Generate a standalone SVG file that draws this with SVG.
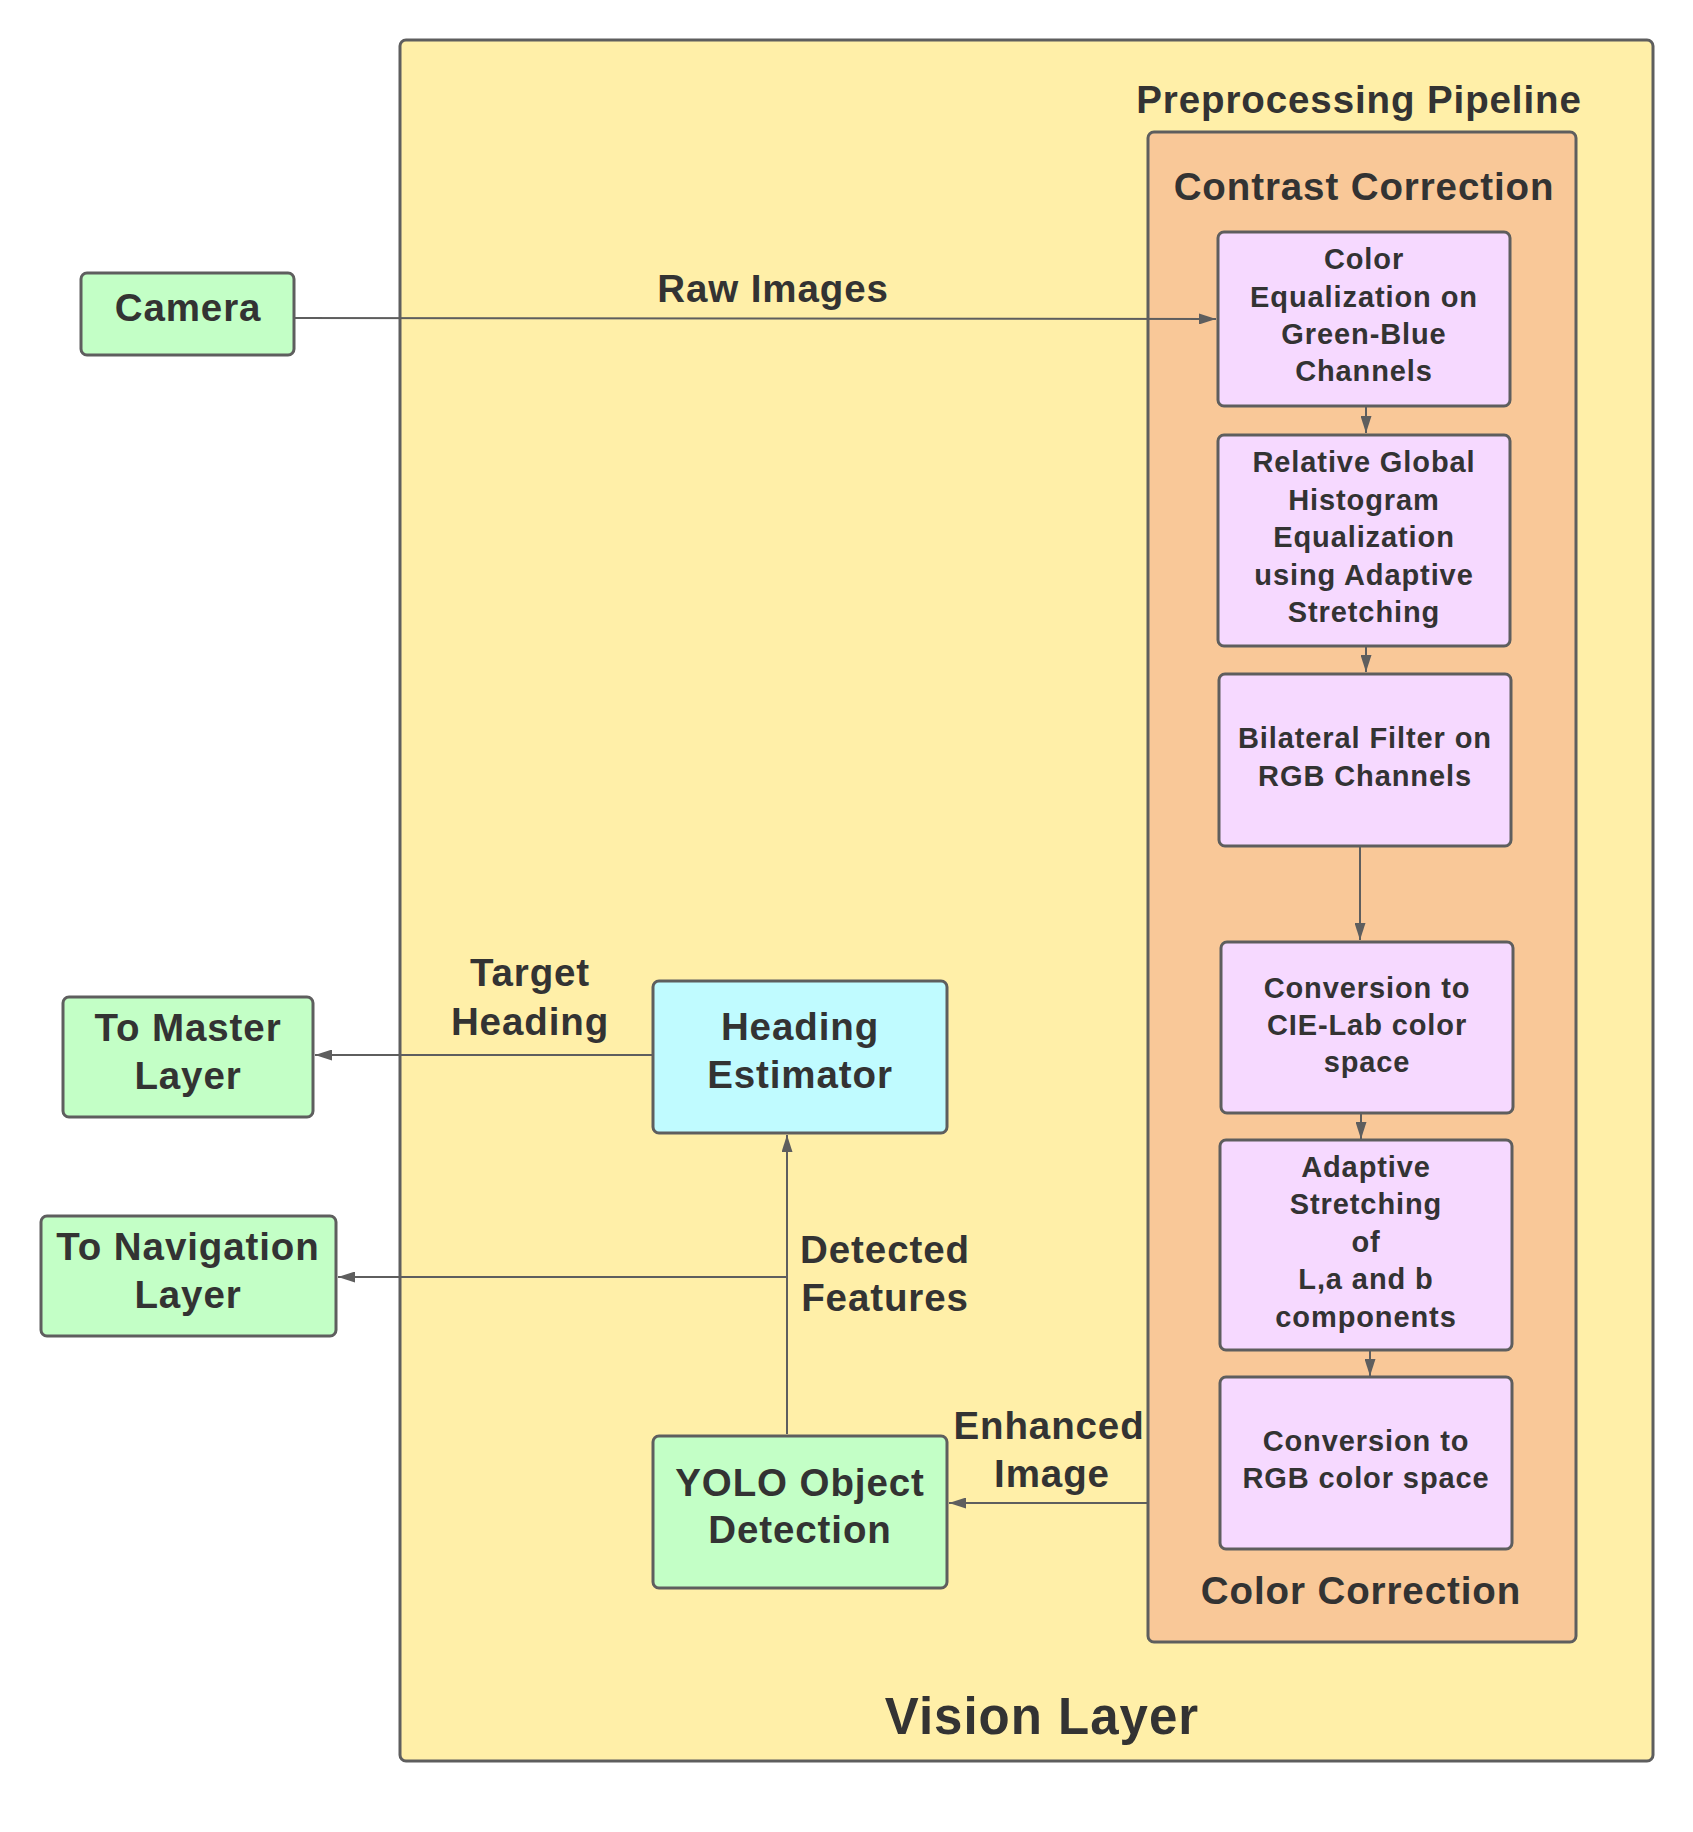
<svg xmlns="http://www.w3.org/2000/svg" width="1693" height="1832" viewBox="0 0 1693 1832">
<style>
text{font-family:"Liberation Sans",Arial,sans-serif;font-weight:bold;fill:#333333;text-anchor:middle}
.big{font-size:38.5px;letter-spacing:0.9px}
.small{font-size:29px;letter-spacing:0.9px}
.title{font-size:51px;letter-spacing:1px}
.box{stroke:#5e5e5e;stroke-width:3}
.proc{fill:#f6d9ff}
.green{fill:#c3ffc6}
.cyan{fill:#c0fbff}
.conn path{fill:none;stroke:#5e5e5e;stroke-width:2}
</style>
<defs>
<marker id="ah" markerUnits="userSpaceOnUse" markerWidth="17" markerHeight="11" refX="17" refY="5.5" orient="auto">
<path d="M0,0 L17,5.5 L0,11 z" fill="#5e5e5e"/>
</marker>
</defs>
<rect width="1693" height="1832" fill="#ffffff"/>
<g id="vision-layer">
<rect class="box" x="400" y="40" width="1253" height="1721" rx="6" fill="#ffefa8"/>
<text class="title" x="1042" y="1734">Vision Layer</text>
</g>
<g id="preprocessing-pipeline">
<text class="big" x="1359" y="113">Preprocessing Pipeline</text>
<rect class="box" x="1148" y="132" width="428" height="1510" rx="6" fill="#f9c898"/>
<text class="big" x="1364" y="200">Contrast Correction</text>
<text class="big" x="1361" y="1604">Color Correction</text>
</g>
<g id="camera">
<rect class="box green" x="81" y="273" width="213" height="82" rx="6"/>
<text class="big" x="188" y="321">Camera</text>
</g>
<g id="color-equalization">
<rect class="box proc" x="1218" y="232" width="292" height="174" rx="6"/>
<text class="small"><tspan x="1364" y="269">Color</tspan><tspan x="1364" y="307">Equalization on</tspan><tspan x="1364" y="344">Green-Blue</tspan><tspan x="1364" y="381">Channels</tspan></text>
</g>
<g id="histogram-equalization">
<rect class="box proc" x="1218" y="435" width="292" height="211" rx="6"/>
<text class="small"><tspan x="1364" y="472">Relative Global</tspan><tspan x="1364" y="510">Histogram</tspan><tspan x="1364" y="547">Equalization</tspan><tspan x="1364" y="585">using Adaptive</tspan><tspan x="1364" y="622">Stretching</tspan></text>
</g>
<g id="bilateral-filter">
<rect class="box proc" x="1219" y="674" width="292" height="172" rx="6"/>
<text class="small"><tspan x="1365" y="748">Bilateral Filter on</tspan><tspan x="1365" y="786">RGB Channels</tspan></text>
</g>
<g id="cielab-conversion">
<rect class="box proc" x="1221" y="942" width="292" height="171" rx="6"/>
<text class="small"><tspan x="1367" y="998">Conversion to</tspan><tspan x="1367" y="1035">CIE-Lab color</tspan><tspan x="1367" y="1072">space</tspan></text>
</g>
<g id="adaptive-stretching">
<rect class="box proc" x="1220" y="1140" width="292" height="210" rx="6"/>
<text class="small"><tspan x="1366" y="1177">Adaptive</tspan><tspan x="1366" y="1214">Stretching</tspan><tspan x="1366" y="1252">of</tspan><tspan x="1366" y="1289">L,a and b</tspan><tspan x="1366" y="1327">components</tspan></text>
</g>
<g id="rgb-conversion">
<rect class="box proc" x="1220" y="1377" width="292" height="172" rx="6"/>
<text class="small"><tspan x="1366" y="1451">Conversion to</tspan><tspan x="1366" y="1488">RGB color space</tspan></text>
</g>
<g id="heading-estimator">
<rect class="box cyan" x="653" y="981" width="294" height="152" rx="6"/>
<text class="big"><tspan x="800" y="1040">Heading</tspan><tspan x="800" y="1088">Estimator</tspan></text>
</g>
<g id="yolo">
<rect class="box green" x="653" y="1436" width="294" height="152" rx="6"/>
<text class="big"><tspan x="800" y="1496">YOLO Object</tspan><tspan x="800" y="1543">Detection</tspan></text>
</g>
<g id="to-master">
<rect class="box green" x="63" y="997" width="250" height="120" rx="6"/>
<text class="big"><tspan x="188" y="1041">To Master</tspan><tspan x="188" y="1089">Layer</tspan></text>
</g>
<g id="to-navigation">
<rect class="box green" x="41" y="1216" width="295" height="120" rx="6"/>
<text class="big"><tspan x="188" y="1260">To Navigation</tspan><tspan x="188" y="1308">Layer</tspan></text>
</g>
<g id="connectors" class="conn">
<path d="M295,318 L1216,319" marker-end="url(#ah)"/>
<path d="M1366,406 L1366,433" marker-end="url(#ah)"/>
<path d="M1366,646 L1366,672" marker-end="url(#ah)"/>
<path d="M1360,846 L1360,940" marker-end="url(#ah)"/>
<path d="M1361,1113 L1361,1139" marker-end="url(#ah)"/>
<path d="M1370,1350 L1370,1376" marker-end="url(#ah)"/>
<path d="M1147,1503 L949,1503" marker-end="url(#ah)"/>
<path d="M787,1434 L787,1135" marker-end="url(#ah)"/>
<path d="M787,1277 L338,1277" marker-end="url(#ah)"/>
<path d="M652,1055 L315,1055" marker-end="url(#ah)"/>
</g>
<g id="labels">
<text class="big" x="773" y="302">Raw Images</text>
<text class="big"><tspan x="530" y="986">Target</tspan><tspan x="530" y="1035">Heading</tspan></text>
<text class="big"><tspan x="885" y="1263">Detected</tspan><tspan x="885" y="1311">Features</tspan></text>
<text class="big"><tspan x="1049" y="1439">Enhanced</tspan><tspan x="1052" y="1487">Image</tspan></text>
</g>
</svg>
